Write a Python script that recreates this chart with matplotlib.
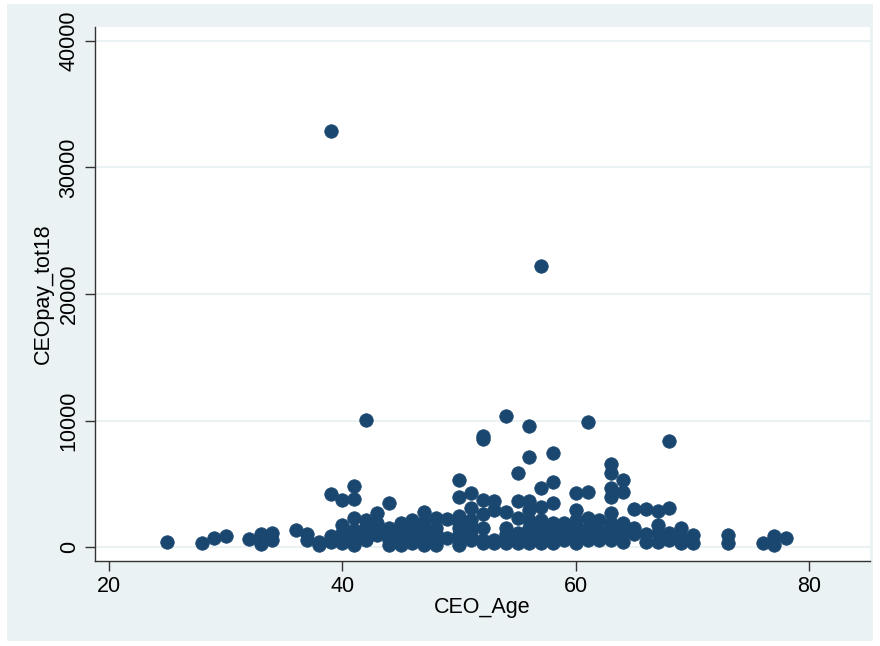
import matplotlib
matplotlib.use("Agg")
import matplotlib.pyplot as plt
from matplotlib.patches import Rectangle

# CEO pay (thousands) by age
pay_by_age = {
    25: [400],
    28: [300],
    29: [700],
    30: [870],
    32: [630],
    33: [1030, 240],
    34: [1100, 550],
    36: [1340],
    37: [1030, 550],
    38: [400, 160],
    39: [32900, 4200, 870, 400],
    40: [3720, 1740, 1100, 700, 320],
    41: [4850, 3800, 2290, 1340, 900, 550, 160],
    42: [10040, 2130, 1700, 1340, 900, 550],
    43: [2690, 1900, 1500, 1100, 950],
    44: [3480, 1500, 1000, 550, 160],
    45: [1900, 1500, 1100, 600, 160],
    46: [2130, 1400, 1000, 550, 300],
    47: [2770, 2000, 1500, 1100, 550, 160],
    48: [2290, 1500, 1100, 550, 200],
    49: [2250, 700],
    50: [5300, 3950, 2450, 1900, 1500, 1000, 550, 160],
    51: [4270, 3080, 2130, 1700, 1340, 900, 550],
    52: [8800, 8550, 3720, 2610, 1500, 550, 300],
    53: [3640, 2930, 550, 300],
    54: [10360, 2770, 1500, 1000, 550, 300],
    55: [5850, 3640, 2290, 1100, 550, 300],
    56: [9560, 7110, 3640, 2930, 2130, 1500, 1000, 550, 300],
    57: [22200, 4660, 3160, 2130, 1700, 1340, 900, 550, 300],
    58: [7430, 5140, 3480, 1900, 1300, 900, 550, 300],
    59: [1900, 1500, 1100, 550],
    60: [4270, 2930, 2130, 1700, 1340, 900, 550, 300],
    61: [9900, 4350, 2300, 1500, 1100, 550],
    62: [2130, 1340, 900, 550],
    63: [6560, 5850, 4660, 3950, 2690, 1900, 1500, 1100, 550],
    64: [5300, 4350, 1900, 1500, 1100, 400],
    65: [3000, 1500, 1000],
    66: [3000, 1000, 400],
    67: [2850, 1740, 1100, 400],
    68: [8350, 3080, 1100, 550],
    69: [1500, 800, 300],
    70: [950, 300],
    73: [950, 300],
    76: [300],
    77: [870, 160],
    78: [700],
}

ceo_age = [a for a, vals in pay_by_age.items() for v in vals]
ceo_pay = [v for a, vals in pay_by_age.items() for v in vals]

x_ticks = [20, 40, 60, 80]
y_ticks = [0, 10000, 20000, 30000, 40000]

plt.rcParams['font.family'] = ['Liberation Sans', 'DejaVu Sans']

bg = '#EAF2F3'
navy = '#1a476f'
dark = '#333333'

fig = plt.figure(figsize=(8.8, 6.46), dpi=100, facecolor='white')
# light graph region behind the white plot region
fig.patches.append(Rectangle((7 / 880, 5 / 646), 866 / 880, 637 / 646,
                             transform=fig.transFigure, facecolor=bg,
                             edgecolor='none', zorder=-10))

ax = fig.add_axes([95 / 880, 85 / 646, 775 / 880, 534 / 646])
ax.set_zorder(1)
ax.set_facecolor('white')

for y in y_ticks:
    ax.axhline(y, color=bg, lw=1.4, zorder=1)

ax.scatter(ceo_age, ceo_pay, s=95, color=navy, edgecolors=navy,
           linewidths=0.5, zorder=3)

ax.set_xlim(18.8, 85.2)
ax.set_ylim(-1100, 41100)
ax.set_xticks(x_ticks)
ax.set_yticks(y_ticks)
ax.set_yticklabels([str(v) for v in y_ticks], rotation=90, va='center')

for side in ['top', 'right']:
    ax.spines[side].set_visible(False)
for side in ['left', 'bottom']:
    ax.spines[side].set_color(dark)
    ax.spines[side].set_linewidth(1.0)

ax.tick_params(direction='out', length=7, width=1, color=dark,
               labelsize=15.5, pad=4)

ax.set_xlabel('CEO_Age', fontsize=15.5)
ax.set_ylabel('CEOpay_tot18', fontsize=15.5)
ax.xaxis.set_label_coords(0.5, -0.067)
ax.yaxis.set_label_coords(-0.053, 0.5)

fig.savefig('out.png', dpi=100, facecolor='white')
